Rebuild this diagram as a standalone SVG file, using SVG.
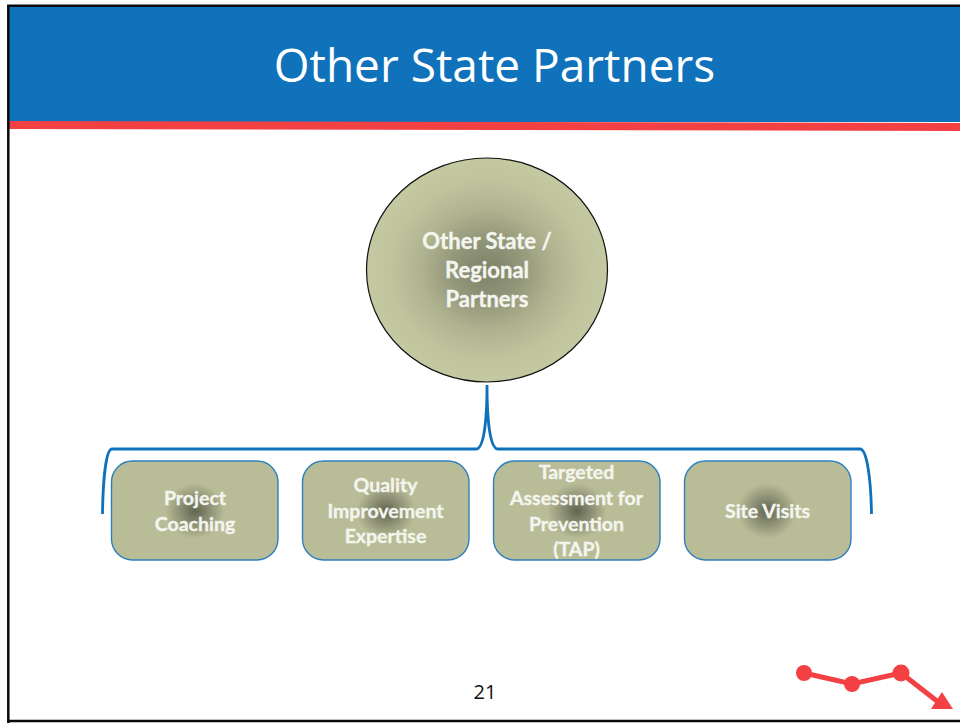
<svg xmlns="http://www.w3.org/2000/svg" width="960" height="723" viewBox="0 0 960 723">
<style>
.t{font-family:"Lato","Open Sans","Liberation Sans",sans-serif;font-weight:700;font-size:19.500px;fill:#f4f5ee;stroke:#f4f5ee;stroke-width:0.350;text-anchor:middle}
.c{font-size:22px}
.box{stroke:#2e7fbd;stroke-width:1.400}
</style>
<defs>
<radialGradient id="gc" gradientUnits="userSpaceOnUse" cx="0" cy="0" r="1" gradientTransform="translate(487 270) scale(120.500 112)">
<stop offset="0" stop-color="#7d8167"/><stop offset="0.25" stop-color="#8f9377"/><stop offset="0.55" stop-color="#afb38f"/><stop offset="0.8" stop-color="#bfc49d"/><stop offset="1" stop-color="#c4c9a1"/>
</radialGradient>
<radialGradient id="gb">
<stop offset="0" stop-color="#62654f"/><stop offset="0.4" stop-color="#85886e"/><stop offset="1" stop-color="#b9bd97"/>
</radialGradient>
</defs>
<rect width="960" height="723" fill="#fff"/>
<g id="header">
<rect x="8" y="6" width="952" height="116" fill="#0f72bb"/>
<polygon points="9,121 960,123 960,131 9,129" fill="#f24043"/>
<text x="494.500" y="82" font-family="'Open Sans','Liberation Sans',sans-serif" font-size="46" fill="#fff" text-anchor="middle">Other State Partners</text>
</g>
<path d="M8.300 723V5.700H960M8 721H960" fill="none" stroke="#0a0a0a" stroke-width="2.500"/>
<g id="connectors">
<path d="M102.500 514C103 480 106 449 112 449H476C484 449 487 420 487 385C487 420 490 449 498 449H860C867 449 871 480 871.500 514" fill="none" stroke="#1071bb" stroke-width="2.800"/>
</g>
<g id="node-circle">
<ellipse cx="487" cy="270" rx="120.500" ry="112" fill="url(#gc)" stroke="#111" stroke-width="1.200"/>
<text class="t c" x="487" y="249">Other State /</text>
<text class="t c" x="487" y="278">Regional</text>
<text class="t c" x="487" y="307">Partners</text>
</g>
<g id="node-project">
<rect class="box" x="111.500" y="461" width="166.500" height="99" rx="21" fill="#b9bd97"/>
<ellipse cx="195" cy="511" rx="30" ry="28" fill="url(#gb)"/>
<text class="t" x="195" y="505">Project</text>
<text class="t" x="195" y="531">Coaching</text>
</g>
<g id="node-quality">
<rect class="box" x="302.500" y="461" width="166.500" height="99" rx="21" fill="#b9bd97"/>
<ellipse cx="386" cy="511" rx="30" ry="28" fill="url(#gb)"/>
<text class="t" x="385.500" y="492">Quality</text>
<text class="t" x="385.500" y="518">Improvement</text>
<text class="t" x="385.500" y="543">Expertise</text>
</g>
<g id="node-tap">
<rect class="box" x="493.500" y="461" width="166.500" height="99" rx="21" fill="#b9bd97"/>
<ellipse cx="577" cy="511" rx="30" ry="28" fill="url(#gb)"/>
<text class="t" x="576.500" y="479">Targeted</text>
<text class="t" x="576.500" y="505">Assessment for</text>
<text class="t" x="576.500" y="531">Prevention</text>
<text class="t" x="576.500" y="556">(TAP)</text>
</g>
<g id="node-site">
<rect class="box" x="684.500" y="461" width="166.500" height="99" rx="21" fill="#b9bd97"/>
<ellipse cx="767" cy="511" rx="30" ry="28" fill="url(#gb)"/>
<text class="t" x="767.500" y="518">Site Visits</text>
</g>
<text x="485" y="699" font-family="'Open Sans','Liberation Sans',sans-serif" font-size="20" fill="#111" text-anchor="middle">21</text>
<g id="logo" fill="#f24043">
<path d="M804 673L852 684L901 673L942 705" fill="none" stroke="#f24043" stroke-width="5"/>
<circle cx="804" cy="673" r="8"/>
<circle cx="852" cy="684" r="8"/>
<circle cx="901" cy="673" r="8.500"/>
<polygon points="942,692 953,709 931,709"/>
</g>
</svg>
